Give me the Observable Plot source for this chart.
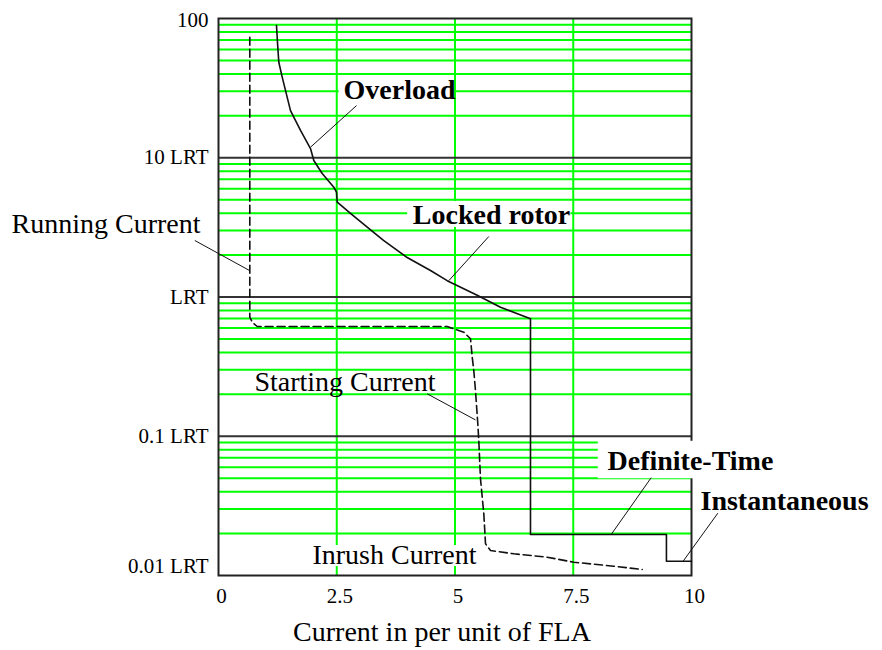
<!DOCTYPE html>
<html><head><meta charset="utf-8">
<script src="https://cdn.jsdelivr.net/npm/d3@7"></script>
<script src="https://cdn.jsdelivr.net/npm/@observablehq/plot@0.6"></script>
<style>body{margin:0;background:#fff} #chart{width:882px;height:650px}</style>
</head><body><div id="chart"></div>
<script>
// Axis ticks and labels
const xTicks = [0, 2.5, 5, 7.5, 10];
const xTickLabels = ["0", "2.5", "5", "7.5", "10"];
const yTicks = [0.01, 0.1, 1, 10, 100];
const yTickLabels = ["0.01 LRT", "0.1 LRT", "LRT", "10 LRT", "100"];
const decadeLines = [0.1, 1, 10];
const minorMultiples = [2, 3, 4, 5, 6, 7, 8, 9];
const decadeStarts = [0.01, 0.1, 1, 10];
const xGridLines = [2.5, 5, 7.5];

// Protection curve (overload + locked rotor + definite-time + instantaneous)
const protX = [1.226, 1.25, 1.275, 1.347, 1.522, 1.734, 1.945, 2.015, 2.192, 2.438, 2.495, 2.51, 2.79, 3.144, 3.488, 3.989, 4.482, 4.835, 5.469, 5.962, 6.596, 6.596, 9.47, 9.47, 10];
const protY = [89, 65, 48.5, 37.9, 21.8, 15.7, 11.65, 9.56, 7.71, 6.14, 5.66, 4.8, 3.98, 3.17, 2.55, 1.92, 1.55, 1.31, 1.03, 0.845, 0.697, 0.0197, 0.0197, 0.01267, 0.01267];

// Motor current (running, starting, inrush) - dashed
const motorX = [0.662, 0.662, 0.719, 0.818, 4.835, 5.186, 5.328, 5.364, 5.397, 5.433, 5.482, 5.503, 5.539, 5.609, 5.645, 5.751, 6.243, 6.949, 7.512, 8.357, 8.958];
const motorY = [73.4, 0.716, 0.656, 0.614, 0.614, 0.559, 0.501, 0.37, 0.297, 0.213, 0.123, 0.0932, 0.0495, 0.0277, 0.0169, 0.0151, 0.01432, 0.01353, 0.01246, 0.01166, 0.01104];

// Annotation labels
const labelText = ["Overload", "Locked rotor", "Running Current", "Starting Current", "Inrush Current", "Definite-Time", "Instantaneous"];
const labelX = [3.827, 5.772, -0.38, 2.674, 3.721, 8.224, 10.19];
const labelY = [26.6, 3.32, 2.905, 0.213, 0.012, 0.0568, 0.0293];
const labelBold = [true, true, false, false, false, true, true];
const labelAnchor = ["middle", "middle", "end", "middle", "middle", "start", "start"];

// Leader lines
const leaderX1 = [2.918, 5.715, -0.501, 4.412, 9.148, 10.556];
const leaderY1 = [23.7, 2.72, 2.545, 0.2017, 0.0504, 0.028];
const leaderX2 = [1.945, 4.869, 0.655, 5.433, 8.302, 9.824];
const leaderY2 = [11.9, 1.31, 1.55, 0.131, 0.0197, 0.01268];

// White label backgrounds
const boxX1 = [2.55, 4.0, 8.03, 1.95];
const boxX2 = [4.98, 7.45, 10.5, 5.5];
const boxY1 = [26.0, 3.16, 0.0495, 0.0116];
const boxY2 = [38.5, 4.85, 0.092, 0.0164];

const minorLines = decadeStarts.flatMap(d => minorMultiples.map(m => m * d));
const prot = protX.map((x, i) => ({x, y: protY[i]}));
const motor = motorX.map((x, i) => ({x, y: motorY[i]}));
const labels = labelText.map((t, i) => ({t, x: labelX[i], y: labelY[i], bold: labelBold[i], anchor: labelAnchor[i]}));
const leaders = leaderX1.map((x1, i) => ({x1, y1: leaderY1[i], x2: leaderX2[i], y2: leaderY2[i]}));
const boxes = boxX1.map((x1, i) => ({x1, x2: boxX2[i], y1: boxY1[i], y2: boxY2[i]}));
const xLab = new Map(xTicks.map((d, i) => [d, xTickLabels[i]]));
const yLab = new Map(yTicks.map((d, i) => [d, yTickLabels[i]]));

const textMarks = [];
for (const anchor of ["middle", "start", "end"]) {
  for (const bold of [true, false]) {
    const sub = labels.filter(d => d.anchor === anchor && d.bold === bold);
    if (!sub.length) continue;
    textMarks.push(Plot.text(sub, {x: "x", y: "y", text: "t", textAnchor: anchor, lineAnchor: "bottom",
      fontSize: 28, fontWeight: bold ? "bold" : "normal", fill: "#000"}));
  }
}

const plot = Plot.plot({
  width: 882, height: 650,
  marginLeft: 218, marginRight: 191, marginTop: 18, marginBottom: 75,
  x: {domain: [0, 10]},
  y: {type: "log", domain: [0.01, 100]},
  style: {fontFamily: "'Liberation Serif', 'Times New Roman', serif", fontSize: "20px", background: "white", overflow: "visible", color: "#000"},
  marks: [
    Plot.ruleY(minorLines, {stroke: "#00ff00", strokeWidth: 2}),
    Plot.ruleX(xGridLines, {stroke: "#00ff00", strokeWidth: 2}),
    Plot.ruleY(decadeLines, {stroke: "#333", strokeWidth: 2}),
    Plot.frame({stroke: "#222", strokeWidth: 2}),
    Plot.rect(boxes, {x1: "x1", x2: "x2", y1: "y1", y2: "y2", fill: "white"}),
    Plot.line(motor, {x: "x", y: "y", stroke: "#111", strokeWidth: 1.6, strokeDasharray: "8,4"}),
    Plot.line(prot, {x: "x", y: "y", stroke: "#111", strokeWidth: 1.6}),
    Plot.link(leaders, {x1: "x1", y1: "y1", x2: "x2", y2: "y2", stroke: "#111", strokeWidth: 1}),
    ...textMarks,
    Plot.axisX(xTicks, {tickSize: 0, tickPadding: 13, tickFormat: d => xLab.get(d), label: null, fontSize: 21, dx: 3}),
    Plot.axisY([0.1, 1, 10], {tickSize: 0, tickPadding: 10, tickFormat: d => yLab.get(d), label: null, fontSize: 21}),
    Plot.axisY([0.01], {tickSize: 0, tickPadding: 10, tickFormat: d => yLab.get(d), label: null, fontSize: 21, dy: -9}),
    Plot.axisY([100], {tickSize: 0, tickPadding: 10, tickFormat: d => yLab.get(d), label: null, fontSize: 21, dy: 2}),
    Plot.text(["Current in per unit of FLA"], {text: d => d, frameAnchor: "bottom", dy: 65, dx: -13, lineAnchor: "bottom", fontSize: 28})
  ]
});
document.getElementById("chart").appendChild(plot);
</script>
</body></html>
